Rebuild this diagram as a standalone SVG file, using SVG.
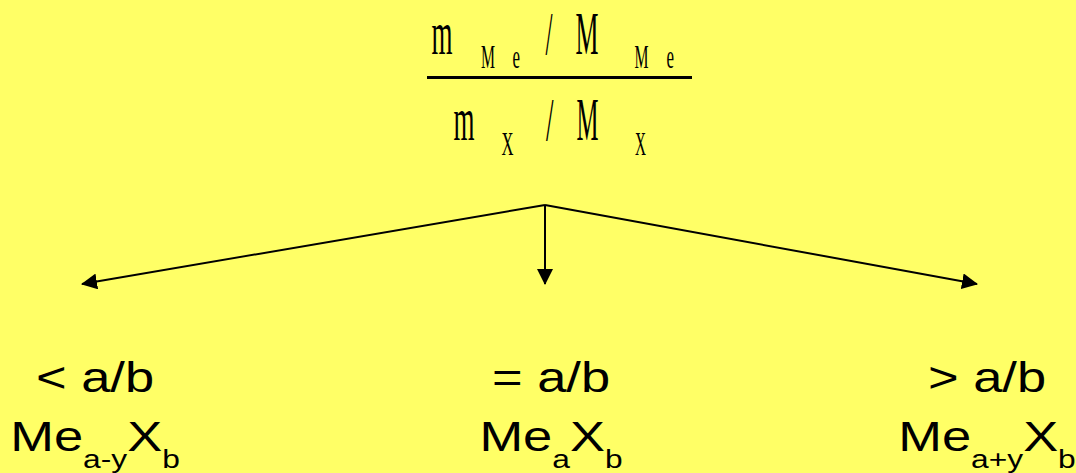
<svg xmlns="http://www.w3.org/2000/svg" width="1076" height="473" viewBox="0 0 1076 473">
<style>
.bg{fill:#FFFF66}
.f{font-family:"Liberation Serif","Times New Roman",serif;fill:#000}
.big{font-size:62px}
.sub{font-size:33px}
.lab{font-family:"Liberation Sans",Arial,sans-serif;font-size:43px;fill:#000;text-anchor:middle}
.s{font-size:26px}
.con{stroke:#000;stroke-width:2;fill:none;marker-end:url(#ah)}
</style>
<defs>
<marker id="ah" viewBox="0 0 16 16" refX="15" refY="8" markerWidth="16" markerHeight="16" markerUnits="userSpaceOnUse" orient="auto">
<path d="M0,0 L16,8 L0,16 z" fill="#000"/>
</marker>
</defs>
<rect class="bg" x="0" y="0" width="1076" height="473"/>
<g id="ratio">
<text class="f big" x="431.5" y="54" textLength="21" lengthAdjust="spacingAndGlyphs">m</text>
<text class="f sub" x="481" y="68" textLength="14" lengthAdjust="spacingAndGlyphs">M</text>
<text class="f sub" x="512.5" y="68" textLength="7.5" lengthAdjust="spacingAndGlyphs">e</text>
<text class="f big" x="545.5" y="54" textLength="7" lengthAdjust="spacingAndGlyphs">/</text>
<text class="f big" x="575.5" y="54" textLength="23" lengthAdjust="spacingAndGlyphs">M</text>
<text class="f sub" x="634.5" y="68" textLength="14" lengthAdjust="spacingAndGlyphs">M</text>
<text class="f sub" x="666.5" y="68" textLength="7.5" lengthAdjust="spacingAndGlyphs">e</text>
<line x1="427" y1="77.5" x2="692" y2="77.5" stroke="#000" stroke-width="3"/>
<text class="f big" x="453.5" y="139.5" textLength="21" lengthAdjust="spacingAndGlyphs">m</text>
<text class="f sub" x="501.5" y="155" textLength="12" lengthAdjust="spacingAndGlyphs">X</text>
<text class="f big" x="546" y="140" textLength="7.5" lengthAdjust="spacingAndGlyphs">/</text>
<text class="f big" x="576.5" y="139.5" textLength="22" lengthAdjust="spacingAndGlyphs">M</text>
<text class="f sub" x="635" y="155" textLength="11" lengthAdjust="spacingAndGlyphs">X</text>
</g>
<g id="connectors">
<path class="con" d="M545,205 L82,284"/>
<path class="con" d="M545,205 L545,284"/>
<path class="con" d="M545,205 L977,284"/>
</g>
<g id="less" transform="translate(95,0) scale(1.22,1)">
<text class="lab" x="0" y="392">&lt; a/b</text>
<text class="lab" x="0" y="451">Me<tspan class="s" dy="17">a-y</tspan><tspan dy="-17">X</tspan><tspan class="s" dy="17">b</tspan></text>
</g>
<g id="equal" transform="translate(551,0) scale(1.22,1)">
<text class="lab" x="0" y="392">= a/b</text>
<text class="lab" x="0" y="451">Me<tspan class="s" dy="17">a</tspan><tspan dy="-17">X</tspan><tspan class="s" dy="17">b</tspan></text>
</g>
<g id="greater" transform="translate(987,0) scale(1.22,1)">
<text class="lab" x="0" y="392">&gt; a/b</text>
<text class="lab" x="0" y="451">Me<tspan class="s" dy="17">a+y</tspan><tspan dy="-17">X</tspan><tspan class="s" dy="17">b</tspan></text>
</g>
</svg>
